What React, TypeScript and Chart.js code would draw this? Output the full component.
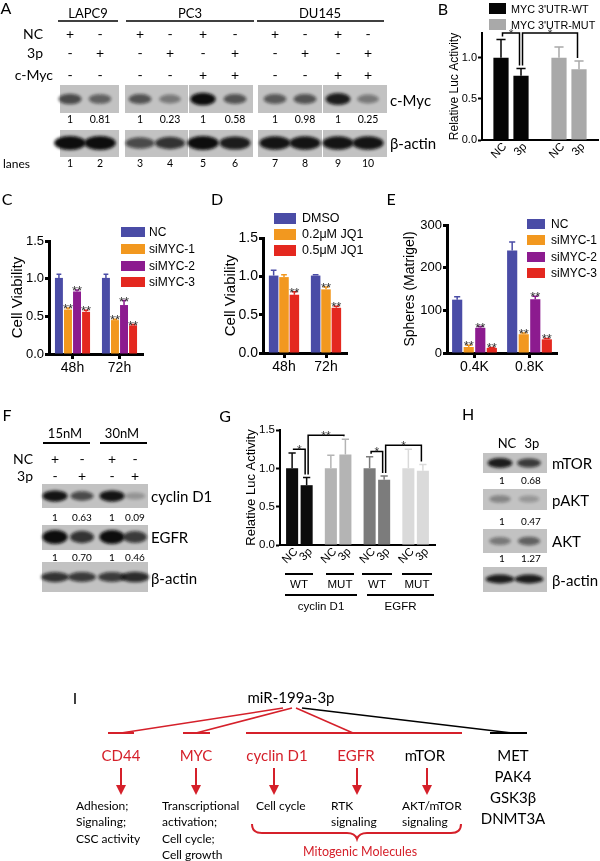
import React, { useEffect, useRef } from "react";
import { Chart, registerables } from "chart.js";
Chart.register(...registerables);

const FONT = "'Liberation Sans', Arial, sans-serif";
const SANS = "Lato, 'Open Sans', sans-serif";
const RED = "#d5202a";

// ---------------- Panel A (western blot) ----------------
const aCellLines = ["LAPC9", "PC3", "DU145"];
const aNC = ["+", "-", "+", "-", "+", "-", "+", "-", "+", "-"];
const a3p = ["-", "+", "-", "+", "-", "+", "-", "+", "-", "+"];
const aMyc = ["-", "-", "-", "-", "+", "+", "-", "-", "+", "+"];
const aMycBand = [0.6, 0.45, 0.55, 0.3, 1.0, 0.55, 0.5, 0.55, 0.9, 0.3];
const aActinBand = [1.0, 1.0, 0.6, 0.75, 1.0, 0.9, 0.95, 0.95, 0.95, 0.95];
const aRatio = ["1", "0.81", "1", "0.23", "1", "0.58", "1", "0.98", "1", "0.25"];
const aLanes = ["1", "2", "3", "4", "5", "6", "7", "8", "9", "10"];

// ---------------- Panel B ----------------
const bConstructs = ["MYC 3'UTR-WT", "MYC 3'UTR-MUT"];
const bTreatments = ["NC", "3p"];
const bNC = [1.0, 1.0];
const b3p = [0.78, 0.86];
const bNCErr = [1.22, 1.13];
const b3pErr = [0.87, 0.96];
const bColors = ["#050505", "#a9a9a9"];
const bBrackets = [
  { a: [0, 0], b: [1, 0], y: 1.3, t: "*" },
  { a: [1, 0], b: [1, 1], y: 1.3, t: "*" },
];

// ---------------- Panel C ----------------
const timePoints = ["48h", "72h"];
const sirnaNames = ["NC", "siMYC-1", "siMYC-2", "siMYC-3"];
const sirnaColors = ["#4a4ca6", "#f2981f", "#8c1b8f", "#e4281f"];
const cMeans = [[1.01, 1.01], [0.59, 0.45], [0.83, 0.65], [0.56, 0.38]];
const cErrTop = [[1.06, 1.06], [0.61, 0.46], [0.85, 0.71], [0.58, 0.39]];
const cStars = [["", ""], ["**", "**"], ["**", "**"], ["**", "**"]];

// ---------------- Panel D ----------------
const jq1Names = ["DMSO", "0.2μM JQ1", "0.5μM JQ1"];
const jq1Colors = ["#4a4ca6", "#f2981f", "#e4281f"];
const dMeans = [[1.01, 1.01], [0.99, 0.83], [0.76, 0.59]];
const dErrTop = [[1.08, 1.02], [1.02, 0.86], [0.8, 0.61]];
const dStars = [["", ""], ["", "**"], ["**", "**"]];

// ---------------- Panel E ----------------
const cellNumbers = ["0.4K", "0.8K"];
const eMeans = [[125, 240], [14, 44], [59, 126], [12, 32]];
const eErrTop = [[132, 260], [18, 47], [62, 133], [13, 34]];
const eStars = [["", ""], ["**", "**"], ["**", "**"], ["**", "**"]];

// ---------------- Panel F ----------------
const fDoses = ["15nM", "30nM"];
const fNC = ["+", "-", "+", "-"];
const f3p = ["-", "+", "-", "+"];
const fCyclinBand = [0.95, 0.6, 0.95, 0.12];
const fCyclinRatio = ["1", "0.63", "1", "0.09"];
const fEgfrBand = [1.0, 0.75, 1.0, 0.7];
const fEgfrRatio = ["1", "0.70", "1", "0.46"];
const fActinBand = [0.75, 0.7, 0.7, 0.8];

// ---------------- Panel G ----------------
const gGroups = ["WT", "MUT", "WT", "MUT"];
const gGenes = ["cyclin D1", "EGFR"];
const gNC = [1.0, 1.0, 1.0, 1.0];
const g3p = [0.78, 1.18, 0.85, 0.97];
const gNCErr = [1.2, 1.17, 1.15, 1.25];
const g3pErr = [0.88, 1.38, 0.9, 1.05];
const gColors = ["#0c0c0c", "#b4b4b4", "#7c7c7c", "#dadada"];
const gBrackets = [
  { a: [0, 0], b: [1, 0], y: 1.25, t: "*" },
  { a: [1, 0], b: [1, 1], y: 1.43, t: "**" },
  { a: [0, 2], b: [1, 2], y: 1.22, t: "*" },
  { a: [1, 2], b: [1, 3], y: 1.3, t: "*" },
];

// ---------------- Panel H ----------------
const hTreatments = ["NC", "3p"];
const hMtorBand = [0.9, 0.7];
const hMtorRatio = ["1", "0.68"];
const hPaktBand = [0.22, 0.1];
const hPaktRatio = ["1", "0.47"];
const hAktBand = [0.3, 0.45];
const hAktRatio = ["1", "1.27"];
const hActinBand = [0.9, 0.9];

// ---------------- Panel I ----------------
const iRegulator = "miR-199a-3p";
const iRedTargets = ["CD44", "MYC", "cyclin D1", "EGFR"];
const iOtherTargets = ["MET", "PAK4", "GSK3β", "DNMT3A"];

// ---------------- Chart helpers ----------------
const extrasPlugin: any = {
  id: "extras",
  afterDatasetsDraw(chart: any, _a: any, o: any) {
    const ctx = chart.ctx;
    const ys = chart.scales.y;
    const area = chart.chartArea;
    const errTop: number[][] = o.errTop || [];
    const stars: string[][] = o.stars || [];
    ctx.save();
    chart.data.datasets.forEach((ds: any, i: number) => {
      const meta = chart.getDatasetMeta(i);
      meta.data.forEach((el: any, j: number) => {
        const col = Array.isArray(ds.backgroundColor) ? ds.backgroundColor[j] : ds.backgroundColor;
        const t = errTop[i] ? errTop[i][j] : undefined;
        if (t !== undefined) {
          const yp = ys.getPixelForValue(t);
          const hw = (el.width * o.cap) / 2;
          ctx.strokeStyle = col;
          ctx.lineWidth = o.errW;
          ctx.beginPath();
          ctx.moveTo(el.x, el.y);
          ctx.lineTo(el.x, yp);
          ctx.moveTo(el.x - hw, yp);
          ctx.lineTo(el.x + hw, yp);
          ctx.stroke();
          const s = stars[i] ? stars[i][j] : "";
          if (s) {
            ctx.fillStyle = "#333";
            ctx.font = `${o.starSize}px ${FONT}`;
            ctx.textAlign = "center";
            ctx.textBaseline = "alphabetic";
            ctx.fillText(s, el.x, yp + o.starDy);
          }
        }
        if (o.rotLabels) {
          ctx.save();
          ctx.translate(el.x + o.rotDx, area.bottom + o.rotDy);
          ctx.rotate(-Math.PI / 4);
          ctx.fillStyle = "#000";
          ctx.font = `${o.rotSize}px ${FONT}`;
          ctx.textAlign = "right";
          ctx.textBaseline = "middle";
          ctx.fillText(ds.label, 0, 0);
          ctx.restore();
        }
      });
    });
    (o.brackets || []).forEach((b: any) => {
      const ea = chart.getDatasetMeta(b.a[0]).data[b.a[1]];
      const eb = chart.getDatasetMeta(b.b[0]).data[b.b[1]];
      const xa = ea.x + 1.5;
      const xb = eb.x - 1.5;
      const ya = ys.getPixelForValue(errTop[b.a[0]][b.a[1]]) - 3;
      const yb = ys.getPixelForValue(errTop[b.b[0]][b.b[1]]) - 3;
      const yl = ys.getPixelForValue(b.y);
      ctx.strokeStyle = "#000";
      ctx.lineWidth = 1.5;
      ctx.beginPath();
      ctx.moveTo(xa, ya);
      ctx.lineTo(xa, yl);
      ctx.lineTo(xb, yl);
      ctx.lineTo(xb, yb);
      ctx.stroke();
      ctx.fillStyle = "#333";
      ctx.font = `${o.starSize}px ${FONT}`;
      ctx.textAlign = "center";
      ctx.textBaseline = "alphabetic";
      ctx.fillText(b.t, (xa + xb) / 2, yl + o.starDy);
    });
    ctx.restore();
  },
};

type Spec = {
  x: number; y: number; w: number; h: number;
  labels: string[];
  series: { label: string; data: number[]; color: string | string[] }[];
  errTop: number[][];
  stars?: string[][];
  brackets?: any[];
  rotLabels?: boolean;
  yMin: number; yMax: number; yStep: number; dec: number;
  yTitle: string; titleSize: number; tickSize: number; xSize: number;
  pad: [number, number, number]; yW: number; xH: number;
  cat: number; bar: number; axisW: number; xTicks: boolean;
  starSize: number;
};

function BarChart({ s }: { s: Spec }) {
  const ref = useRef<HTMLCanvasElement | null>(null);
  useEffect(() => {
    const chart = new Chart(ref.current as HTMLCanvasElement, {
      type: "bar",
      data: {
        labels: s.labels,
        datasets: s.series.map((d) => ({
          label: d.label,
          data: d.data,
          backgroundColor: d.color as any,
          borderWidth: 0,
          categoryPercentage: s.cat,
          barPercentage: s.bar,
        })),
      },
      options: {
        responsive: false,
        animation: false,
        devicePixelRatio: 1,
        layout: { padding: { left: s.pad[0], top: s.pad[1], right: s.pad[2], bottom: 0 } },
        plugins: {
          legend: { display: false },
          tooltip: { enabled: false },
          extras: {
            errTop: s.errTop,
            stars: s.stars,
            brackets: s.brackets,
            rotLabels: !!s.rotLabels,
            rotDx: 4,
            rotDy: 5,
            rotSize: 11.5,
            cap: 0.6,
            errW: 1.5,
            starSize: s.starSize,
            starDy: 5,
          },
        } as any,
        scales: {
          x: {
            offset: true,
            grid: {
              display: true,
              offset: false,
              drawOnChartArea: false,
              drawTicks: s.xTicks,
              tickLength: 5,
              tickWidth: s.axisW,
              tickColor: "#000",
            },
            border: { color: "#000", width: s.axisW },
            ticks: {
              display: !s.rotLabels,
              color: "#000",
              font: { family: FONT, size: s.xSize },
              padding: 1,
              maxRotation: 0,
            },
            afterFit: (sc: any) => {
              sc.height = s.xH;
            },
          } as any,
          y: {
            min: s.yMin,
            max: s.yMax,
            ticks: {
              stepSize: s.yStep,
              includeBounds: false,
              color: "#000",
              font: { family: FONT, size: s.tickSize },
              padding: 1,
              callback: (v: any) => Number(v).toFixed(s.dec),
            },
            grid: {
              drawOnChartArea: false,
              tickLength: 4,
              tickWidth: s.axisW,
              tickColor: "#000",
            },
            border: { color: "#000", width: s.axisW },
            title: {
              display: true,
              text: s.yTitle,
              color: "#000",
              font: { family: FONT, size: s.titleSize },
              padding: 0,
            },
            afterFit: (sc: any) => {
              sc.width = s.yW;
            },
          } as any,
        },
      },
      plugins: [extrasPlugin],
    });
    return () => chart.destroy();
  }, []);
  return (
    <canvas
      ref={ref}
      width={s.w}
      height={s.h}
      style={{ position: "absolute", left: s.x, top: s.y, width: s.w, height: s.h }}
    />
  );
}

const specB: Spec = {
  x: 400, y: 20, w: 200, h: 150,
  labels: bConstructs,
  series: [
    { label: bTreatments[0], data: bNC, color: bColors },
    { label: bTreatments[1], data: b3p, color: bColors },
  ],
  errTop: [bNCErr, b3pErr],
  brackets: bBrackets,
  rotLabels: true,
  yMin: 0, yMax: 1.3, yStep: 0.5, dec: 1,
  yTitle: "Relative Luc Activity", titleSize: 12, tickSize: 11, xSize: 11,
  pad: [47, 13, 2], yW: 35, xH: 30,
  cat: 0.69, bar: 0.76, axisW: 2, xTicks: false, starSize: 12,
};

const specC: Spec = {
  x: 0, y: 225, w: 200, h: 160,
  labels: timePoints,
  series: sirnaNames.map((n, i) => ({ label: n, data: cMeans[i], color: sirnaColors[i] })),
  errTop: cErrTop, stars: cStars,
  yMin: 0, yMax: 1.5, yStep: 0.5, dec: 1,
  yTitle: "Cell Viability", titleSize: 15, tickSize: 13, xSize: 14,
  pad: [9, 16, 57], yW: 40, xH: 31,
  cat: 0.77, bar: 0.88, axisW: 3, xTicks: true, starSize: 13,
};

const specD: Spec = {
  x: 200, y: 225, w: 200, h: 160,
  labels: timePoints,
  series: jq1Names.map((n, i) => ({ label: n, data: dMeans[i], color: jq1Colors[i] })),
  errTop: dErrTop, stars: dStars,
  yMin: 0, yMax: 1.5, yStep: 0.5, dec: 1,
  yTitle: "Cell Viability", titleSize: 15, tickSize: 14, xSize: 14,
  pad: [22, 13, 53], yW: 41, xH: 32,
  cat: 0.74, bar: 0.92, axisW: 3, xTicks: true, starSize: 13,
};

const specE: Spec = {
  x: 400, y: 210, w: 200, h: 175,
  labels: cellNumbers,
  series: sirnaNames.map((n, i) => ({ label: n, data: eMeans[i], color: sirnaColors[i] })),
  errTop: eErrTop, stars: eStars,
  yMin: 0, yMax: 300, yStep: 100, dec: 0,
  yTitle: "Spheres (Matrigel)", titleSize: 14, tickSize: 13, xSize: 14,
  pad: [2, 15, 43], yW: 45, xH: 32,
  cat: 0.84, bar: 0.88, axisW: 3, xTicks: true, starSize: 13,
};

const specG: Spec = {
  x: 200, y: 415, w: 240, h: 175,
  labels: gGroups,
  series: [
    { label: "NC", data: gNC, color: gColors },
    { label: "3p", data: g3p, color: gColors },
  ],
  errTop: [gNCErr, g3pErr],
  brackets: gBrackets,
  rotLabels: true,
  yMin: 0, yMax: 1.5, yStep: 0.5, dec: 1,
  yTitle: "Relative Luc Activity", titleSize: 13, tickSize: 11.5, xSize: 11,
  pad: [44, 15, 5], yW: 36, xH: 45,
  cat: 0.75, bar: 0.83, axisW: 2, xTicks: false, starSize: 12,
};

// ---------------- SVG helpers ----------------
function T(x: number, y: number, s: string, o: any = {}) {
  return (
    <text
      key={`${x}-${y}-${s}`}
      x={x}
      y={y}
      fontSize={o.size || 13}
      textAnchor={o.anchor || "middle"}
      dominantBaseline="central"
      fill={o.fill || "#000"}
      fontFamily={o.family || SANS}
    >
      {s}
    </text>
  );
}

function Band(key: string, cx: number, cy: number, a: number, rx: number, ry: number) {
  const k = 0.65 + 0.5 * a;
  return (
    <ellipse key={key} cx={cx} cy={cy} rx={rx * (0.85 + 0.2 * a)} ry={ry * k} fill="#0a0a0a" opacity={Math.min(1, 0.15 + a * 0.85)} filter="url(#bb)" />
  );
}

function BlotBox(key: string, x: number, y: number, w: number, h: number) {
  return <rect key={key} x={x} y={y} width={w} height={h} fill="#c2c2c2" />;
}

const aLaneX = [70, 100, 140, 170, 203, 235, 275, 305, 338, 368];
const aBoxes = [[60, 119], [125, 188], [189, 253], [258, 322], [323, 387]];
const fLaneX = [55, 82, 112, 135];
const hLaneX = [500, 529];

function Arrow(x: number, y1: number, y2: number) {
  return (
    <g key={`arr${x}`}>
      <line x1={x} y1={y1} x2={x} y2={y2 - 8} stroke={RED} strokeWidth={2} />
      <polygon points={`${x - 5},${y2 - 10} ${x + 5},${y2 - 10} ${x},${y2}`} fill={RED} />
    </g>
  );
}

function Overlay() {
  const els: any[] = [];
  // Panel letters
  els.push(T(6, 7, "A", { size: 16 }));
  els.push(T(443, 8, "B", { size: 16 }));
  els.push(T(7, 198, "C", { size: 16 }));
  els.push(T(217, 198, "D", { size: 16 }));
  els.push(T(391, 198, "E", { size: 16 }));
  els.push(T(7, 414, "F", { size: 16 }));
  els.push(T(225, 415, "G", { size: 16 }));
  els.push(T(468, 413, "H", { size: 16 }));
  els.push(T(75, 697, "I", { size: 16 }));

  // ---- Panel A ----
  const hdrX = [88, 190, 320];
  aCellLines.forEach((n, i) => els.push(T(hdrX[i], 13, n, { size: 13 })));
  [[58, 118], [126, 254], [257, 384]].forEach(([a, b], i) =>
    els.push(<line key={`al${i}`} x1={a} x2={b} y1={21} y2={21} stroke="#000" strokeWidth={1.6} />)
  );
  els.push(T(43, 33, "NC", { size: 14, anchor: "end" }));
  els.push(T(43, 52, "3p", { size: 14, anchor: "end" }));
  els.push(T(53, 74, "c-Myc", { size: 14, anchor: "end" }));
  aLaneX.forEach((x, i) => {
    els.push(T(x, 33, aNC[i], { size: 14 }));
    els.push(T(x, 52, a3p[i], { size: 14 }));
    els.push(T(x, 74, aMyc[i], { size: 14 }));
  });
  aBoxes.forEach(([a, b], i) => els.push(BlotBox(`am${i}`, a, 85, b - a, 28)));
  aLaneX.forEach((x, i) => els.push(Band(`amb${i}`, x, 99, aMycBand[i], 12, 5.5)));
  aLaneX.forEach((x, i) => els.push(T(x, 119, aRatio[i], { size: 10.5 })));
  aBoxes.forEach(([a, b], i) => els.push(BlotBox(`aa${i}`, a, 130, b - a, 27)));
  aLaneX.forEach((x, i) => els.push(Band(`aab${i}`, x, 143, aActinBand[i], 15, 6)));
  els.push(T(3, 163, "lanes", { size: 12, anchor: "start" }));
  aLaneX.forEach((x, i) => els.push(T(x, 163, aLanes[i], { size: 10.5 })));
  els.push(T(390, 100, "c-Myc", { size: 15, anchor: "start" }));
  els.push(T(390, 143, "β-actin", { size: 15, anchor: "start" }));

  // ---- Panel B legend ----
  els.push(<rect key="bl1" x={489} y={3} width={17} height={11} fill={bColors[0]} />);
  els.push(<rect key="bl2" x={489} y={19} width={17} height={11} fill={bColors[1]} />);
  els.push(T(511, 9, bConstructs[0], { size: 10.8, anchor: "start", family: FONT }));
  els.push(T(511, 25, bConstructs[1], { size: 10.8, anchor: "start", family: FONT }));

  // ---- Panel C legend ----
  const cLegY = [232, 249, 266, 282];
  sirnaNames.forEach((n, i) => {
    els.push(<rect key={`cl${i}`} x={121} y={cLegY[i] - 5} width={24} height={10} fill={sirnaColors[i]} />);
    els.push(T(149, cLegY[i], n, { size: 12, anchor: "start", family: FONT }));
  });
  // ---- Panel D legend ----
  const dLegY = [218, 234, 250];
  jq1Names.forEach((n, i) => {
    els.push(<rect key={`dl${i}`} x={274} y={dLegY[i] - 5} width={22} height={11} fill={jq1Colors[i]} />);
    els.push(T(302, dLegY[i], n, { size: 12.5, anchor: "start", family: FONT }));
  });
  // ---- Panel E legend ----
  const eLegY = [224, 240, 257, 273];
  sirnaNames.forEach((n, i) => {
    els.push(<rect key={`el${i}`} x={527} y={eLegY[i] - 5} width={18} height={10} fill={sirnaColors[i]} />);
    els.push(T(551, eLegY[i], n, { size: 12, anchor: "start", family: FONT }));
  });

  // ---- Panel F ----
  els.push(T(65, 433, fDoses[0], { size: 13 }));
  els.push(T(122, 433, fDoses[1], { size: 13 }));
  els.push(<line key="fl1" x1={43} x2={90} y1={443} y2={443} stroke="#000" strokeWidth={2} />);
  els.push(<line key="fl2" x1={100} x2={147} y1={443} y2={443} stroke="#000" strokeWidth={2} />);
  els.push(T(33, 458, "NC", { size: 14, anchor: "end" }));
  els.push(T(33, 475, "3p", { size: 14, anchor: "end" }));
  fLaneX.forEach((x, i) => {
    els.push(T(x, 458, fNC[i], { size: 14 }));
    els.push(T(x, 475, f3p[i], { size: 14 }));
  });
  els.push(BlotBox("fc", 42, 484, 106, 24));
  fLaneX.forEach((x, i) => els.push(Band(`fcb${i}`, x, 496, fCyclinBand[i], 12, 5)));
  fLaneX.forEach((x, i) => els.push(T(x, 517, fCyclinRatio[i], { size: 10 })));
  els.push(BlotBox("fe", 42, 525, 106, 25));
  fLaneX.forEach((x, i) => els.push(Band(`feb${i}`, x, 537, fEgfrBand[i], 12, 6)));
  fLaneX.forEach((x, i) => els.push(T(x, 557, fEgfrRatio[i], { size: 10 })));
  els.push(BlotBox("fa", 42, 562, 106, 30));
  fLaneX.forEach((x, i) => els.push(Band(`fab${i}`, x, 577, fActinBand[i], 14, 5)));
  els.push(T(151, 496, "cyclin D1", { size: 15, anchor: "start" }));
  els.push(T(151, 537, "EGFR", { size: 15, anchor: "start" }));
  els.push(T(151, 578, "β-actin", { size: 15, anchor: "start" }));

  // ---- Panel G group labels ----
  const gSub = [[285, 313], [326, 354], [362, 392], [402, 432]];
  gSub.forEach(([a, b], i) => {
    els.push(<line key={`gs${i}`} x1={a} x2={b} y1={574} y2={574} stroke="#000" strokeWidth={2} />);
    els.push(T((a + b) / 2, 584, gGroups[i], { size: 11.5, family: FONT }));
  });
  const gGene = [[285, 357], [367, 434]];
  gGene.forEach(([a, b], i) => {
    els.push(<line key={`gg${i}`} x1={a} x2={b} y1={595} y2={595} stroke="#000" strokeWidth={2} />);
    els.push(T((a + b) / 2, 606, gGenes[i], { size: 11.5, family: FONT }));
  });

  // ---- Panel H ----
  hTreatments.forEach((n, i) => els.push(T([507, 532][i], 443, n, { size: 13 })));
  els.push(BlotBox("hm", 483, 453, 64, 20));
  hLaneX.forEach((x, i) => els.push(Band(`hmb${i}`, x, 463, hMtorBand[i], 12, 4.5)));
  hLaneX.forEach((x, i) => els.push(T(x + 2, 480, hMtorRatio[i], { size: 10 })));
  els.push(BlotBox("hp", 483, 489, 64, 21));
  hLaneX.forEach((x, i) => els.push(Band(`hpb${i}`, x, 499, hPaktBand[i], 12, 5)));
  hLaneX.forEach((x, i) => els.push(T(x + 2, 521, hPaktRatio[i], { size: 10 })));
  els.push(BlotBox("ha", 483, 529, 64, 24));
  hLaneX.forEach((x, i) => els.push(Band(`hab${i}`, x, 541, hAktBand[i], 12, 5)));
  hLaneX.forEach((x, i) => els.push(T(x + 2, 558, hAktRatio[i], { size: 10 })));
  els.push(BlotBox("hb", 483, 567, 64, 25));
  hLaneX.forEach((x, i) => els.push(Band(`hbb${i}`, x, 579, hActinBand[i], 14, 4)));
  els.push(T(552, 463, "mTOR", { size: 15, anchor: "start" }));
  els.push(T(552, 500, "pAKT", { size: 15, anchor: "start" }));
  els.push(T(552, 541, "AKT", { size: 15, anchor: "start" }));
  els.push(T(552, 580, "β-actin", { size: 15, anchor: "start" }));

  // ---- Panel I ----
  const yTop = 708;
  const yBar = 733;
  const yGene = 755;
  els.push(T(291, 697, iRegulator, { size: 15 }));
  els.push(<line key="i1" x1={283} y1={yTop} x2={121} y2={yBar} stroke={RED} strokeWidth={1.5} />);
  els.push(<line key="i2" x1={292} y1={yTop} x2={196} y2={yBar} stroke={RED} strokeWidth={1.5} />);
  els.push(<line key="i3" x1={296} y1={yTop} x2={353} y2={yBar} stroke={RED} strokeWidth={1.5} />);
  els.push(<line key="i4" x1={302} y1={yTop} x2={513} y2={yBar} stroke="#000" strokeWidth={1.5} />);
  els.push(<line key="t1" x1={108} y1={yBar} x2={134} y2={yBar} stroke={RED} strokeWidth={2} />);
  els.push(<line key="t2" x1={183} y1={yBar} x2={210} y2={yBar} stroke={RED} strokeWidth={2} />);
  els.push(<line key="t3" x1={246} y1={yBar} x2={462} y2={yBar} stroke={RED} strokeWidth={2} />);
  els.push(<line key="t4" x1={490} y1={yBar} x2={527} y2={yBar} stroke="#000" strokeWidth={2} />);
  const geneX = [121, 196, 277, 356];
  iRedTargets.forEach((n, i) => els.push(T(geneX[i], yGene, n, { size: 15, fill: RED })));
  els.push(T(425, yGene, "mTOR", { size: 15 }));
  iOtherTargets.forEach((n, i) => els.push(T(513, yGene + i * 21, n, { size: 15 })));
  [121, 196, 274, 357, 427].forEach((x) => els.push(Arrow(x, 768, 795)));
  const desc: [number, string[]][] = [
    [76, ["Adhesion;", "Signaling;", "CSC activity"]],
    [162, ["Transcriptional", "activation;", "Cell cycle;", "Cell growth"]],
    [256, ["Cell cycle"]],
    [331, ["RTK", "signaling"]],
    [402, ["AKT/mTOR", "signaling"]],
  ];
  desc.forEach(([x, lines]) =>
    lines.forEach((l, j) => els.push(T(x, 805 + j * 16.5, l, { size: 12, anchor: "start" })))
  );
  els.push(
    <path
      key="brace"
      d="M252,824 Q252,833 262,833 L347,833 Q355,833 357,839 Q359,833 367,833 L451,833 Q461,833 461,824"
      stroke={RED}
      strokeWidth={2}
      fill="none"
    />
  );
  els.push(T(360, 851, "Mitogenic Molecules", { size: 12.5, fill: RED }));

  return (
    <svg
      width={600}
      height={861}
      style={{ position: "absolute", left: 0, top: 0, pointerEvents: "none" }}
    >
      <defs>
        <filter id="bb" x="-50%" y="-80%" width="200%" height="260%">
          <feGaussianBlur stdDeviation="1.6" />
        </filter>
      </defs>
      {els}
    </svg>
  );
}

export default function App() {
  return (
    <div
      style={{
        position: "absolute",
        left: 0,
        top: 0,
        width: 600,
        height: 861,
        overflow: "hidden",
        background: "#fff",
      }}
    >
      <BarChart s={specB} />
      <BarChart s={specC} />
      <BarChart s={specD} />
      <BarChart s={specE} />
      <BarChart s={specG} />
      <Overlay />
    </div>
  );
}
